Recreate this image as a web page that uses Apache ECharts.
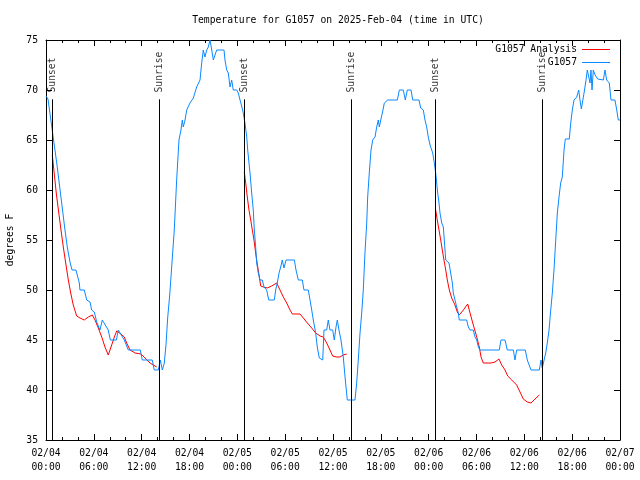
<!DOCTYPE html>
<html>
<head>
<meta charset="utf-8">
<script src="https://cdn.jsdelivr.net/npm/echarts@6/dist/echarts.min.js"></script>
<style>html,body{margin:0;padding:0;background:#fff;}#chart{width:640px;height:480px;}</style>
</head>
<body>
<div id="chart"></div>
<script>
// x values are hours since 02/04 00:00 UTC
const xTickHours = [0,6,12,18,24,30,36,42,48,54,60,66,72];
const yTicks = [35,40,45,50,55,60,65,70,75];

const sunEventHours = [0.79, 14.2, 24.87, 38.3, 48.85, 62.26];
const sunEventNames = ['Sunset','Sunrise','Sunset','Sunrise','Sunset','Sunrise'];

const analysisDay1 = [[0.79,63.5],[1.3,59.6],[1.88,56],[2.17,54.3],[2.47,52.7],[2.8,51],[3.1,49.7],[3.42,48.5],[3.85,47.4],[4.26,47.2],[4.8,47],[5.31,47.3],[5.81,47.5],[6.15,47],[6.56,46.2],[6.99,45.3],[7.4,44.3],[7.81,43.5],[8.24,44.5],[8.57,45.3],[8.87,45.9],[9.41,45.6],[9.82,45.3],[10.12,44.7],[10.54,44],[11.16,43.7],[11.92,43.6],[12.42,43.2],[13.05,42.7],[13.46,42.5],[13.89,42.3]];
const analysisDay2 = [[24.87,61.8],[25.05,60.7],[25.25,59.3],[25.46,58],[25.68,57],[25.88,56],[26.09,55],[26.3,53.7],[26.56,52.3],[26.76,51.3],[26.93,50.4],[27.26,50.3],[27.76,50.2],[28.31,50.4],[28.94,50.7],[29.35,50],[29.77,49.3],[30.19,48.7],[30.61,48],[30.9,47.6],[31.86,47.6],[32.28,47.2],[32.78,46.7],[33.33,46.2],[33.83,45.7],[34.37,45.4],[34.78,45.3],[35.21,44.7],[35.62,44],[35.96,43.4],[36.46,43.3],[36.88,43.3],[37.29,43.5],[37.72,43.6]];
const analysisDay3 = [[48.88,58],[49.08,57],[49.3,56],[49.51,55],[49.71,54],[49.92,53],[50.14,52],[50.34,51],[50.59,50],[50.89,49.2],[51.3,48.5],[51.59,47.8],[51.84,47.5],[52.35,48],[52.9,48.6],[53.19,47.7],[53.6,46.5],[54.03,45.3],[54.35,44.3],[54.57,43.3],[54.85,42.7],[55.82,42.7],[56.32,42.8],[56.82,43.1],[57.16,42.5],[57.58,42],[57.91,41.4],[58.42,41],[59.04,40.5],[59.46,39.8],[59.87,39.1],[60.37,38.8],[60.84,38.7],[61.34,39.1],[61.88,39.5]];

const observedG1057 = [[0,69.4],[0.25,69.1],[1.38,62.5],[2.38,56],[2.67,54.3],[3.01,52.8],[3.26,52],[3.76,52],[4.18,50.7],[4.26,50],[4.8,50],[5.11,49],[5.52,48.8],[5.73,48],[6.06,47.8],[6.36,46.8],[6.77,46],[7.06,47],[7.31,47],[7.81,46],[8.07,45],[8.82,45],[9.07,46],[9.32,46],[9.82,45],[10.32,44],[11.83,44],[12.08,43],[13.33,43],[13.58,42],[14.09,42],[14.34,43],[14.59,42],[14.84,42.7],[15.05,44.5],[15.27,47.3],[15.52,49.5],[16.09,56],[16.39,61],[16.68,65],[16.93,66],[17.1,67],[17.22,66.3],[17.44,67],[17.65,68],[18.06,68.7],[18.48,69.2],[18.9,70.3],[19.32,71],[19.53,72.7],[19.73,74],[19.94,73.3],[20.16,74],[20.36,74.3],[20.57,75],[20.79,74],[20.99,73],[21.2,73],[21.41,74],[22.33,74],[22.45,73],[22.67,72],[22.87,71.7],[23.08,70.3],[23.29,71],[23.49,70],[23.92,70],[24.12,69.7],[24.34,69],[24.67,68],[24.96,66.7],[25.18,65.3],[25.3,64],[25.59,61.7],[25.8,59.7],[26.0,58],[26.13,56],[26.3,54.3],[26.43,52.7],[26.63,51.7],[26.84,51],[27.13,51],[27.35,50.3],[27.68,50],[27.94,49],[28.64,49],[28.81,50],[29.01,50.7],[29.23,51.7],[29.44,52.3],[29.64,53],[29.85,52.2],[30.11,53],[31.15,53],[31.36,52],[31.65,51],[32.15,51],[32.36,50],[32.9,50],[33.12,49],[33.33,48],[33.53,47],[33.83,45.7],[34.03,44.3],[34.28,43.2],[34.71,43],[34.87,46],[35.21,46],[35.41,47],[35.62,46],[35.96,46],[36.16,45],[36.38,46.3],[36.54,47],[36.75,46],[37.0,45],[37.29,43.3],[37.51,41.3],[37.79,39],[38.76,39],[38.97,40.7],[39.17,43],[39.39,45.7],[39.6,47.7],[39.8,50],[40.01,53.7],[40.23,56.7],[40.35,59.3],[40.55,61.7],[40.77,64],[40.98,65],[41.27,65.3],[41.48,66.3],[41.68,67],[41.81,66.3],[41.99,67],[42.19,67.7],[42.44,68.7],[42.86,69],[44.07,69],[44.32,70],[44.82,70],[45.07,69],[45.32,70],[45.79,70],[46.0,69],[46.79,69],[47.0,68.2],[47.33,68],[47.54,67],[47.75,66.3],[47.95,65.3],[48.17,64.5],[48.51,63.7],[48.71,62.7],[48.88,61.7],[49.01,60.7],[49.13,59.7],[49.3,58.7],[49.42,57.7],[49.64,56.7],[49.84,56.3],[49.96,55],[50.14,53],[50.34,53],[50.55,52.7],[50.76,51.7],[50.97,50.7],[51.09,49.7],[51.3,49],[51.52,48.3],[51.72,47.7],[51.84,47],[52.77,47],[52.97,46.3],[53.19,46],[53.6,46],[53.81,45.3],[54.03,45],[54.23,44.3],[54.44,44],[56.86,44],[57.07,45],[57.58,45],[57.86,44],[58.62,44],[58.83,43],[59.04,44],[60.12,44],[60.37,43],[60.84,42],[61.88,42],[62.09,43],[62.25,42.2],[62.47,42.2],[62.68,43.7],[62.88,44.7],[63.1,46],[63.31,48],[63.51,49.7],[63.72,52],[63.94,55],[64.14,57.7],[64.35,59.3],[64.56,60.7],[64.76,61.3],[64.98,64],[65.14,65.1],[65.64,65.1],[65.82,66.7],[66.02,68],[66.23,69],[66.57,69.3],[66.82,70],[66.98,69],[67.15,68.1],[67.4,68.1],[67.49,69.7],[67.74,71],[67.9,72],[68.15,72],[68.24,70.7],[68.36,72],[68.49,70],[68.65,72],[68.87,71.5],[69.2,71.1],[69.91,71],[70.12,72],[70.33,71],[70.66,70.7],[70.87,69],[71.37,69],[71.59,68],[71.79,67],[72.0,67]];

const FONT = 'DejaVu Sans Mono';
const FS = 9.7;
const RED = '#ff0000';
const BLUE = '#0a88ff';

function xLabel(h) {
  const day = 4 + Math.floor(h / 24);
  const hr = h % 24;
  return '02/' + String(day).padStart(2, '0') + '\n' + String(hr).padStart(2, '0') + ':00';
}

const chart = echarts.init(document.getElementById('chart'), null, {renderer: 'canvas'});

const baseX = {
  type: 'value', min: xTickHours[0], max: xTickHours[xTickHours.length - 1], interval: 6,
  axisLine: {show: true, onZero: false, lineStyle: {color: '#000', width: 1}},
  axisTick: {show: true, inside: true, length: 6, lineStyle: {color: '#000'}},
  minorTick: {show: true, splitNumber: 3, length: 3, lineStyle: {color: '#000'}},
  splitLine: {show: false}, minorSplitLine: {show: false}
};
const baseY = {
  type: 'value', min: yTicks[0], max: yTicks[yTicks.length - 1], interval: 5,
  axisLine: {show: true, onZero: false, lineStyle: {color: '#000', width: 1}},
  axisTick: {show: true, inside: true, length: 6, lineStyle: {color: '#000'}},
  splitLine: {show: false}
};

const sunScatter = sunEventHours.map((h, i) => ({value: [h, 69.75], name: sunEventNames[i]}));
const sunLines = sunEventHours.map(h => [{coord: [h, 69.07]}, {coord: [h, 35]}]);

const lineCommon = {type: 'line', showSymbol: false, symbol: 'none', animation: false, silent: true};

chart.setOption({
  animation: false,
  backgroundColor: '#fff',
  title: {
    text: 'Temperature for G1057 on 2025-Feb-04 (time in UTC)',
    left: 333, textAlign: 'center', top: 10,
    textStyle: {fontFamily: FONT, fontSize: FS, fontWeight: 'normal', color: '#000'}
  },
  legend: {
    orient: 'vertical', right: 30, top: 44, align: 'right', padding: 0,
    icon: 'rect', itemWidth: 28, itemHeight: 1, itemGap: 2,
    textStyle: {fontFamily: FONT, fontSize: FS, color: '#000', lineHeight: 11},
    data: ['G1057 Analysis', 'G1057']
  },
  grid: {left: 46, right: 20, top: 40, bottom: 40, containLabel: false, outerBoundsMode: 'none'},
  xAxis: [
    Object.assign({}, baseX, {
      position: 'bottom',
      axisLabel: {show: true, margin: 6, fontFamily: FONT, fontSize: FS, color: '#000', lineHeight: 14, formatter: xLabel, showMinLabel: true, showMaxLabel: true}
    }),
    Object.assign({}, baseX, {position: 'top', axisLabel: {show: false}})
  ],
  yAxis: [
    Object.assign({}, baseY, {
      position: 'left',
      name: 'degrees F', nameLocation: 'middle', nameGap: 31, nameRotate: 90,
      nameTextStyle: {fontFamily: FONT, fontSize: FS, color: '#000'},
      axisLabel: {show: true, margin: 8, fontFamily: FONT, fontSize: FS, color: '#000'}
    }),
    Object.assign({}, baseY, {position: 'right', axisLabel: {show: false}})
  ],
  series: [
    Object.assign({}, lineCommon, {name: 'G1057 Analysis', data: analysisDay1, lineStyle: {color: RED, width: 1}, itemStyle: {color: RED}, z: 2}),
    Object.assign({}, lineCommon, {name: 'G1057 Analysis', data: analysisDay2, lineStyle: {color: RED, width: 1}, itemStyle: {color: RED}, z: 2}),
    Object.assign({}, lineCommon, {name: 'G1057 Analysis', data: analysisDay3, lineStyle: {color: RED, width: 1}, itemStyle: {color: RED}, z: 2}),
    Object.assign({}, lineCommon, {name: 'G1057', data: observedG1057, lineStyle: {color: BLUE, width: 1}, itemStyle: {color: BLUE}, z: 3}),
    {
      type: 'scatter', name: 'sun', data: sunScatter, symbolSize: 0, silent: true, z: 4,
      label: {
        show: true, position: 'inside', align: 'left', verticalAlign: 'middle', rotate: 90,
        formatter: p => p.name, fontFamily: FONT, fontSize: FS, color: '#000'
      },
      markLine: {
        silent: true, symbol: ['none', 'none'], animation: false,
        label: {show: false},
        lineStyle: {color: '#000', width: 1, type: 'solid'},
        emphasis: {disabled: true},
        data: sunLines
      }
    }
  ]
});
</script>
</body>
</html>
